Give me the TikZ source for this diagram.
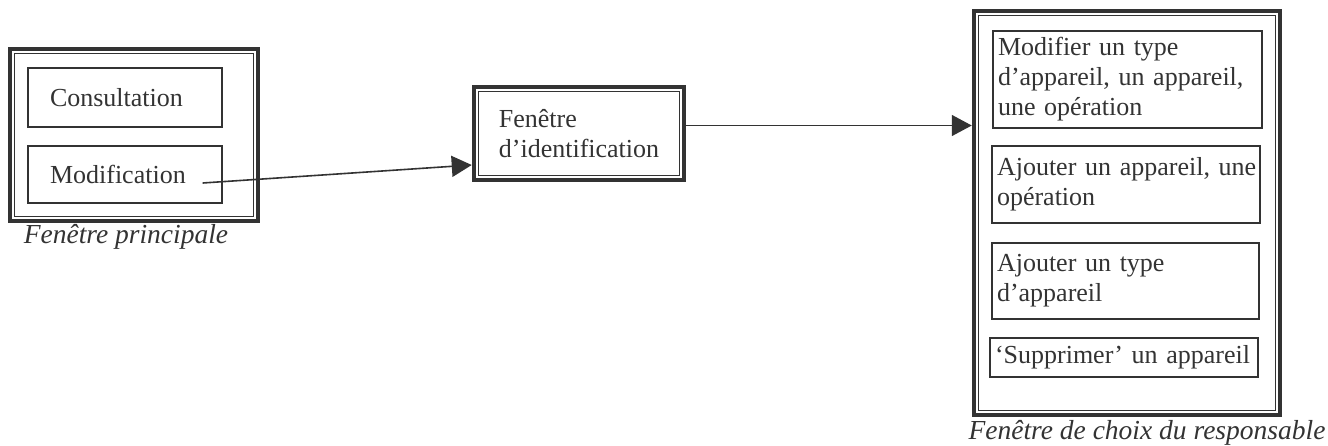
\documentclass[tikz,border=0pt]{standalone}
\usepackage{fontspec}
\setmainfont{Liberation Serif}
\usetikzlibrary{arrows.meta,calc}
\definecolor{ink}{HTML}{333333}
\begin{document}
\begin{tikzpicture}[x=1pt,y=-1pt,
  every node/.style={font=\fontsize{26}{30}\selectfont, text=ink},
  win/.style={draw=ink, line width=4.5pt, inner sep=0pt},
  innerline/.style={draw=ink, line width=1.2pt},
  sub/.style={draw=ink, line width=1.3pt, align=left, inner ysep=0pt},
  captext/.style={font=\fontsize{27.5}{30}\selectfont\itshape, anchor=base, inner sep=0pt},
  arr/.style={draw=ink, line width=1.6pt, -{Triangle[length=20pt,width=21pt]}}]
\useasboundingbox (0,0) rectangle (1328,445);

% main window
\node[win, minimum width=248pt, minimum height=172pt] (mainw) at (134,135) {};
\draw[innerline] ([shift={(7pt,-7pt)}]mainw.north west) rectangle ([shift={(-7pt,7pt)}]mainw.south east);
\node[sub, text width=150pt, inner xsep=22pt, minimum height=59pt] (cons) at (125,97.5) {Consultation};
\node[sub, text width=150pt, inner xsep=22pt, minimum height=57pt] (modif) at (125,174.5) {Modification};
\node[captext] (capmain) at (126,243) {Fenêtre principale};

% identification window
\node[win, minimum width=210pt, minimum height=93pt, align=left] (ident) at (579,133.5) {Fenêtre\\d’identification};
\draw[innerline] ([shift={(7pt,-7pt)}]ident.north west) rectangle ([shift={(-7pt,7pt)}]ident.south east);

% responsible window
\node[win, minimum width=306pt, minimum height=404pt] (resp) at (1127,213) {};
\draw[innerline] ([shift={(7pt,-7pt)}]resp.north west) rectangle ([shift={(-7pt,7pt)}]resp.south east);
\node[sub, text width=259pt, inner xsep=5pt, minimum height=97pt] (b1) at (1127.5,79.5) {Modifier un type\\\mbox{d’appareil, un appareil,}\\une opération};
\node[sub, text width=258pt, inner xsep=5pt, minimum height=77pt] (b2) at (1126,184.5) {\mbox{Ajouter un appareil, une}\\opération};
\node[sub, text width=257pt, inner xsep=5pt, minimum height=76pt] (b3) at (1125.5,281) {Ajouter un type\\d’appareil};
\node[sub, text width=258pt, inner xsep=5pt, minimum height=39pt] (b4) at (1124,357.5) {\mbox{‘Supprimer’ un appareil}};
\node[captext] (capresp) at (1147,439) {Fenêtre de choix du responsable};

% connectors
\coordinate (mstart) at ([xshift=-20pt,yshift=-8.5pt]modif.east);
\draw[arr] (mstart) -- ([yshift=-31.5pt]ident.west);
\draw[arr] ([yshift=8pt]ident.east) -- ([yshift=8pt]ident.east -| resp.west);
\end{tikzpicture}
\end{document}
